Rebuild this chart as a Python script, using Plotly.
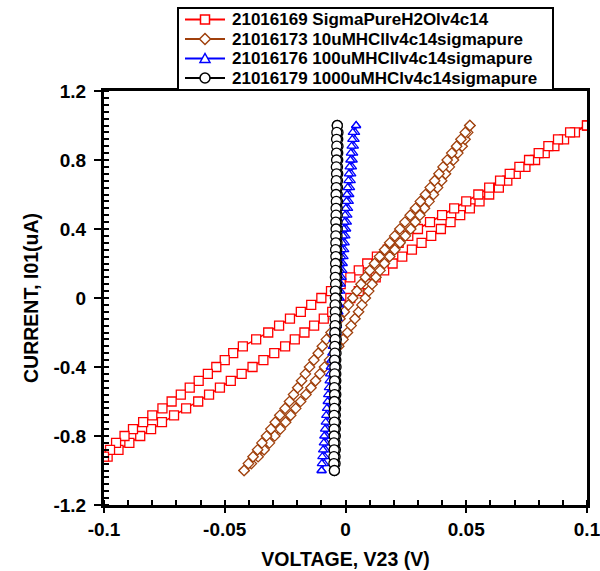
import plotly.graph_objects as go

# ---------------- data ----------------
# current sweep values (uA), ascending
current = [
    -1.00, -0.96, -0.92, -0.88, -0.84, -0.80, -0.76, -0.72, -0.68, -0.64,
    -0.60, -0.56, -0.52, -0.48, -0.44, -0.40, -0.36, -0.32, -0.28, -0.24,
    -0.20, -0.16, -0.12, -0.08, -0.04, 0.00, 0.04, 0.08, 0.12, 0.16,
    0.20, 0.24, 0.28, 0.32, 0.36, 0.40, 0.44, 0.48, 0.52, 0.56,
    0.60, 0.64, 0.68, 0.72, 0.76, 0.80, 0.84, 0.88, 0.92, 0.96,
    1.00,
]

# 21016169 SigmaPureH2O : voltage on the two sweep branches (V)
red_fwd = [
    -0.1060, -0.1025, -0.0985, -0.0940, -0.0895, -0.0850, -0.0805, -0.0760, -0.0710, -0.0660,
    -0.0610, -0.0565, -0.0520, -0.0475, -0.0430, -0.0385, -0.0340, -0.0295, -0.0250, -0.0210,
    -0.0170, -0.0130, -0.0090, -0.0055, -0.0020, 0.0020, 0.0055, 0.0090, 0.0125, 0.0160,
    0.0195, 0.0235, 0.0275, 0.0315, 0.0355, 0.0395, 0.0435, 0.0475, 0.0515, 0.0555,
    0.0595, 0.0635, 0.0670, 0.0705, 0.0745, 0.0785, 0.0825, 0.0865, 0.0905, 0.0950,
    0.1000,
]
red_rev = [
    -0.1060, -0.1030, -0.1000, -0.0975, -0.0950, -0.0915, -0.0880, -0.0838, -0.0800, -0.0758,
    -0.0720, -0.0682, -0.0645, -0.0608, -0.0570, -0.0535, -0.0500, -0.0465, -0.0425, -0.0370,
    -0.0320, -0.0275, -0.0230, -0.0185, -0.0142, -0.0100, -0.0060, -0.0020, 0.0020, 0.0055,
    0.0090, 0.0130, 0.0175, 0.0220, 0.0260, 0.0300, 0.0350, 0.0400, 0.0450, 0.0500,
    0.0550, 0.0595, 0.0640, 0.0680, 0.0720, 0.0760, 0.0800, 0.0840, 0.0880, 0.0930,
    0.1000,
]

# 21016173 10uMHCl
brown_fwd = [
    -0.0420, -0.0390, -0.0362, -0.0337, -0.0315, -0.0293, -0.0270, -0.0248, -0.0227, -0.0206,
    -0.0186, -0.0164, -0.0143, -0.0124, -0.0106, -0.0087, -0.0066, -0.0046, -0.0028, -0.0010,
    0.0008, 0.0023, 0.0039, 0.0054, 0.0068, 0.0082, 0.0096, 0.0110, 0.0126, 0.0143,
    0.0161, 0.0183, 0.0204, 0.0226, 0.0248, 0.0270, 0.0289, 0.0308, 0.0327, 0.0346,
    0.0364, 0.0381, 0.0398, 0.0414, 0.0430, 0.0447, 0.0465, 0.0483, 0.0495, 0.0506,
    0.0515,
]
brown_rev = [
    -0.0420, -0.0402, -0.0383, -0.0364, -0.0346, -0.0327, -0.0309, -0.0291, -0.0272, -0.0250,
    -0.0232, -0.0215, -0.0198, -0.0182, -0.0166, -0.0149, -0.0131, -0.0113, -0.0096, -0.0079,
    -0.0060, -0.0042, -0.0023, -0.0005, 0.0012, 0.0030, 0.0047, 0.0064, 0.0082, 0.0100,
    0.0120, 0.0141, 0.0162, 0.0183, 0.0204, 0.0225, 0.0246, 0.0268, 0.0290, 0.0310,
    0.0331, 0.0351, 0.0369, 0.0387, 0.0404, 0.0421, 0.0440, 0.0460, 0.0478, 0.0496,
    0.0515,
]

# 21016176 100uMHCl
blue_fwd = [
    -0.0099, -0.0088, -0.0086, -0.0083, -0.0080, -0.0078, -0.0075, -0.0072, -0.0070, -0.0067,
    -0.0064, -0.0062, -0.0059, -0.0056, -0.0054, -0.0051, -0.0048, -0.0045, -0.0043, -0.0040,
    -0.0037, -0.0035, -0.0032, -0.0029, -0.0027, -0.0024, -0.0021, -0.0019, -0.0016, -0.0013,
    -0.0011, -0.0008, -0.0005, -0.0003, 0.0000, 0.0003, 0.0006, 0.0008, 0.0011, 0.0014,
    0.0016, 0.0019, 0.0022, 0.0024, 0.0027, 0.0030, 0.0032, 0.0035, 0.0038, 0.0040,
    0.0044,
]
blue_rev = [
    -0.0099, -0.0098, -0.0096, -0.0093, -0.0090, -0.0088, -0.0085, -0.0082, -0.0080, -0.0077,
    -0.0074, -0.0072, -0.0069, -0.0066, -0.0064, -0.0061, -0.0058, -0.0055, -0.0053, -0.0050,
    -0.0047, -0.0045, -0.0042, -0.0039, -0.0037, -0.0034, -0.0031, -0.0029, -0.0026, -0.0023,
    -0.0021, -0.0018, -0.0015, -0.0013, -0.0010, -0.0007, -0.0004, -0.0002, 0.0001, 0.0004,
    0.0006, 0.0009, 0.0012, 0.0014, 0.0017, 0.0020, 0.0022, 0.0025, 0.0028, 0.0030,
    0.0044,
]

# 21016179 1000uMHCl
black_fwd = [
    -0.0046, -0.0043, -0.0043, -0.0042, -0.0043, -0.0042, -0.0042, -0.0041, -0.0042, -0.0041,
    -0.0041, -0.0040, -0.0041, -0.0040, -0.0040, -0.0039, -0.0040, -0.0039, -0.0039, -0.0038,
    -0.0039, -0.0038, -0.0038, -0.0037, -0.0038, -0.0037, -0.0037, -0.0036, -0.0037, -0.0036,
    -0.0036, -0.0035, -0.0036, -0.0035, -0.0035, -0.0034, -0.0035, -0.0034, -0.0034, -0.0033,
    -0.0034, -0.0033, -0.0033, -0.0032, -0.0033, -0.0032, -0.0032, -0.0031, -0.0032, -0.0031,
    -0.0034,
]
black_rev = [
    -0.0046, -0.0048, -0.0048, -0.0047, -0.0048, -0.0047, -0.0047, -0.0046, -0.0047, -0.0046,
    -0.0046, -0.0045, -0.0046, -0.0045, -0.0045, -0.0044, -0.0045, -0.0044, -0.0044, -0.0043,
    -0.0044, -0.0043, -0.0043, -0.0042, -0.0043, -0.0042, -0.0042, -0.0041, -0.0042, -0.0041,
    -0.0041, -0.0040, -0.0041, -0.0040, -0.0040, -0.0039, -0.0040, -0.0039, -0.0039, -0.0038,
    -0.0039, -0.0038, -0.0038, -0.0037, -0.0038, -0.0037, -0.0037, -0.0036, -0.0037, -0.0036,
    -0.0034,
]

series_names = [
    "21016169 SigmaPureH2Olv4c14",
    "21016173 10uMHCllv4c14sigmapure",
    "21016176 100uMHCllv4c14sigmapure",
    "21016179 1000uMHClv4c14sigmapure",
]

x_ticks = [-0.1, -0.05, 0, 0.05, 0.1]
x_tick_labels = ["-0.1", "-0.05", "0", "0.05", "0.1"]
y_ticks = [-1.2, -0.8, -0.4, 0, 0.4, 0.8, 1.2]
y_tick_labels = ["-1.2", "-0.8", "-0.4", "0", "0.4", "0.8", "1.2"]

# ---------------- layout constants (pixels) ----------------
W, H = 600, 571
ML, MR, MT, MB = 104, 13, 91, 66
PW, PH = W - ML - MR, H - MT - MB
FONT = "Arial, 'Liberation Sans', sans-serif"


def px_x(px):
    return (px - ML) / PW


def px_y(py):
    return (H - MB - py) / PH


styles = [
    dict(color="#FF0000", symbol="square", size=9),
    dict(color="#A0400C", symbol="diamond", size=8),
    dict(color="#0000FF", symbol="triangle-up", size=8),
    dict(color="#000000", symbol="circle", size=10),
]
branches = [
    (red_fwd, red_rev),
    (brown_fwd, brown_rev),
    (blue_fwd, blue_rev),
    (black_fwd, black_rev),
]

fig = go.Figure()
for name, (fwd, rev), st in zip(series_names, branches, styles):
    xs = list(fwd) + list(rev)[::-1]
    ys = list(current) + list(current)[::-1]
    fig.add_trace(go.Scatter(
        x=xs, y=ys, name=name, mode="lines+markers", showlegend=False,
        line=dict(color=st["color"], width=1.5),
        marker=dict(symbol=st["symbol"], size=st["size"], color="white",
                    line=dict(color=st["color"], width=1.3)),
    ))

# ---------------- legend (drawn as box + samples + text) ----------------
LEG_L, LEG_R, LEG_T, LEG_B = 178, 553, 8, 90
row_y = [19.5, 39.0, 58.5, 78.0]
sample_x0, sample_x1, text_x = 185, 225, 231
LEG_FONT = 17
shapes = [dict(type="rect", xref="paper", yref="paper",
               x0=px_x(LEG_L), x1=px_x(LEG_R), y0=px_y(LEG_B), y1=px_y(LEG_T),
               line=dict(color="black", width=2), fillcolor="white", layer="above")]
marker_paths = {
    "square": "M -4.5 -4.5 L 4.5 -4.5 L 4.5 4.5 L -4.5 4.5 Z",
    "diamond": "M -5.5 0 L 0 5.5 L 5.5 0 L 0 -5.5 Z",
    "triangle-up": "M -5 -4 L 5 -4 L 0 5 Z",
}
annotations = []
for name, st, ry in zip(series_names, styles, row_y):
    shapes.append(dict(type="line", xref="paper", yref="paper",
                       x0=px_x(sample_x0), x1=px_x(sample_x1), y0=px_y(ry), y1=px_y(ry),
                       line=dict(color=st["color"], width=2), layer="above"))
    cx = px_x((sample_x0 + sample_x1) / 2)
    cy = px_y(ry)
    if st["symbol"] == "circle":
        shapes.append(dict(type="circle", xref="paper", yref="paper",
                           xsizemode="pixel", ysizemode="pixel", xanchor=cx, yanchor=cy,
                           x0=-5, x1=5, y0=-5, y1=5, fillcolor="white",
                           line=dict(color=st["color"], width=1.5), layer="above"))
    else:
        shapes.append(dict(type="path", xref="paper", yref="paper",
                           xsizemode="pixel", ysizemode="pixel", xanchor=cx, yanchor=cy,
                           path=marker_paths[st["symbol"]], fillcolor="white",
                           line=dict(color=st["color"], width=1.5), layer="above"))
    annotations.append(dict(xref="paper", yref="paper", x=px_x(text_x), y=px_y(ry),
                            xanchor="left", yanchor="middle", showarrow=False,
                            text=name, borderpad=0,
                            font=dict(family=FONT, size=LEG_FONT, color="black",
                                      weight="bold")))

axis_common = dict(
    showgrid=False, zeroline=False, showline=True, linecolor="black", linewidth=3,
    mirror=True, ticks="outside", tickwidth=2, tickcolor="black", automargin=False,
    tickfont=dict(family=FONT, size=19, color="black", weight="bold"),
)

fig.update_layout(
    width=W, height=H,
    margin=dict(l=ML, r=MR, t=MT, b=MB, autoexpand=False),
    paper_bgcolor="white", plot_bgcolor="white",
    font=dict(family=FONT, color="black"),
    showlegend=False,
    shapes=shapes,
    annotations=annotations,
    xaxis=dict(
        range=[-0.1, 0.1], tickmode="array", tickvals=x_ticks, ticktext=x_tick_labels,
        ticklen=5, ticklabeloverflow="allow",
        minor=dict(tickmode="linear", tick0=0, dtick=0.01, ticks="inside", ticklen=5,
                   tickwidth=2, tickcolor="black", showgrid=False),
        title=dict(text="VOLTAGE, V23 (V)", standoff=14,
                   font=dict(family=FONT, size=19.5, color="black", weight="bold")),
        **axis_common,
    ),
    yaxis=dict(
        range=[-1.2, 1.2], tickmode="array", tickvals=y_ticks, ticktext=y_tick_labels,
        ticklen=7, ticklabelstandoff=4,
        minor=dict(tickmode="linear", tick0=0, dtick=0.04, ticks="inside", ticklen=5,
                   tickwidth=2, tickcolor="black", showgrid=False),
        title=dict(text="CURRENT, I01(uA)", standoff=10,
                   font=dict(family=FONT, size=19.5, color="black", weight="bold")),
        **axis_common,
    ),
    xaxis2=dict(
        overlaying="x", anchor="y", side="bottom", range=[-0.1, 0.1],
        tickmode="array", tickvals=x_ticks, ticks="inside", ticklen=7, tickwidth=2,
        tickcolor="black", showticklabels=False, showline=False, showgrid=False,
        zeroline=False,
    ),
    yaxis2=dict(
        overlaying="y", anchor="x", side="left", range=[-1.2, 1.2],
        tickmode="array", tickvals=y_ticks, ticks="inside", ticklen=7, tickwidth=2,
        tickcolor="black", showticklabels=False, showline=False, showgrid=False,
        zeroline=False,
    ),
)

fig.write_html("out.html")
